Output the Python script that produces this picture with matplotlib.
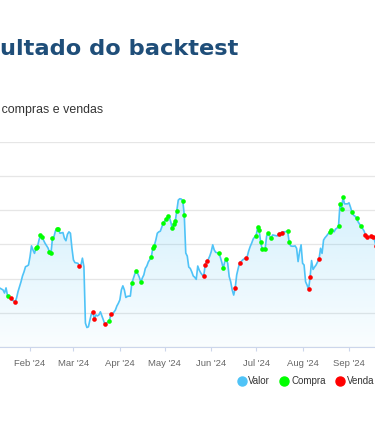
import numpy as np
import matplotlib
matplotlib.use("Agg")
import matplotlib.pyplot as plt
import matplotlib.dates as mdates
from matplotlib.colors import to_rgb
from matplotlib.lines import Line2D

# data (days counted from 2024-01-01)
start = np.datetime64("2024-01-01")
day_offsets = [
    2, 7, 11, 13, 14, 15, 16, 17, 18, 19, 20, 21, 22, 23, 24, 25, 26, 27, 28, 29,
    30, 31, 32, 33, 34, 35, 36, 37, 38, 39, 40, 41, 42, 43, 44, 45, 46, 47, 48, 49,
    50, 51, 52, 53, 54, 55, 56, 57, 58, 59, 60, 61, 62, 63, 64, 65, 66, 67, 68, 69,
    70, 71, 72, 73, 74, 75, 76, 77, 78, 79, 80, 81, 82, 83, 84, 85, 86, 87, 88, 89,
    90, 91, 92, 93, 94, 95, 96, 97, 98, 99, 100, 101, 102, 103, 104, 105, 106, 107, 108, 109,
    110, 111, 112, 113, 114, 115, 116, 117, 118, 119, 120, 121, 122, 123, 124, 125, 126, 127, 128, 129,
    130, 131, 132, 133, 134, 135, 136, 137, 138, 139, 140, 141, 142, 143, 144, 145, 146, 147, 148, 149,
    150, 151, 152, 153, 154, 155, 156, 157, 158, 159, 160, 161, 162, 163, 164, 165, 166, 167, 168, 169,
    170, 171, 172, 173, 174, 175, 176, 177, 178, 179, 180, 181, 182, 183, 184, 185, 186, 187, 188, 189,
    190, 191, 192, 193, 194, 195, 196, 197, 198, 199, 200, 201, 202, 203, 204, 205, 206, 207, 208, 209,
    210, 211, 212, 213, 214, 215, 216, 217, 218, 219, 220, 221, 222, 223, 224, 225, 226, 227, 228, 229,
    230, 231, 232, 233, 234, 235, 236, 237, 238, 239, 240, 241, 242, 243, 244, 245, 246, 247, 248, 249,
    250, 251, 252, 253, 254, 255, 256, 257, 258, 259, 260, 261, 262, 263, 265, 268,
]
values = [
    9670, 9790, 9720, 9670, 9580, 9730, 9500, 9470, 9430, 9380, 9350, 9320, 9430, 9620, 9760, 9910, 10080, 10200, 10350, 10370,
    10400, 10640, 10960, 10840, 10740, 10890, 10940, 11130, 11280, 11210, 11130, 11040, 10970, 10900, 10780, 10740, 11180, 11230, 11400, 11450,
    11450, 11330, 11340, 11350, 11180, 11110, 11300, 11370, 11330, 10890, 10550, 10470, 10460, 10450, 10370, 10400, 10600, 10350, 8700, 8570,
    8590, 8790, 8970, 9010, 8820, 8940, 8910, 8940, 9030, 8910, 8790, 8660, 8700, 8730, 8760, 8970, 8970, 9020, 9080, 9200,
    9280, 9380, 9670, 9790, 9670, 9450, 9480, 9490, 9490, 9870, 10010, 10140, 10220, 10140, 10040, 9900, 10020, 10110, 10300, 10370,
    10490, 10560, 10640, 10890, 10970, 11130, 11330, 11370, 11390, 11510, 11640, 11690, 11740, 11830, 11800, 11660, 11470, 11590, 11680, 11990,
    12300, 12340, 12330, 12280, 11870, 10750, 10660, 10340, 10300, 10200, 10080, 10040, 9980, 10370, 10250, 10170, 10110, 10080, 10410, 10520,
    10560, 10660, 10790, 10990, 10840, 10770, 10760, 10740, 10640, 10490, 10300, 10490, 10570, 10450, 10060, 9910, 9670, 9520, 9720, 10110,
    10300, 10470, 10500, 10550, 10580, 10600, 10640, 10810, 10940, 11040, 11160, 11220, 11260, 11500, 11420, 11070, 10880, 10880, 10880, 11250,
    11330, 11250, 11190, 11280, 11270, 11260, 11250, 11310, 11340, 11350, 11370, 11370, 11380, 11400, 11080, 10960, 10950, 10950, 10960, 10890,
    10500, 10790, 10990, 10450, 10400, 9910, 9810, 9690, 10040, 10530, 10270, 10340, 10400, 10490, 10580, 10890, 10740, 11130, 11200, 11250,
    11310, 11360, 11420, 11400, 11370, 11450, 11480, 11550, 12190, 12040, 12380, 12190, 12190, 12190, 12220, 12090, 11940, 11860, 11830, 11780,
    11670, 11600, 11540, 11470, 11400, 11280, 11210, 11230, 11230, 11260, 11230, 11130, 10960, 10840, 10900, 10950,
]
buy_days = [16, 35, 36, 38, 39, 44, 45, 46, 49, 50, 84, 99, 102, 105, 112, 113, 114, 120, 122, 123,
            126, 127, 128, 129, 133, 134, 157, 160, 162, 182, 183, 184, 185, 186, 188, 190, 192, 203, 204, 231,
            232, 237, 238, 239, 240, 246, 249, 252]
sell_days = [18, 21, 64, 73, 74, 81, 85, 147, 148, 149, 168, 171, 175, 197, 199, 217, 218, 224, 255, 256,
             259, 260, 262]

title = "Resultado do backtest"
subtitle = "Evolução do valor da carteira com compras e vendas"
legend_labels = ["Valor", "Compra", "Venda"]

LINE = "#4fc3f7"
GREEN = "#00ff00"
RED = "#ff0000"

def to_num(days):
    return mdates.date2num(start + np.array(days).astype("timedelta64[D]"))

x = to_num(day_offsets)
v = np.array(values, dtype=float)
lookup = dict(zip(day_offsets, values))

fig = plt.figure(figsize=(3.75, 4.37), dpi=100)
ax = fig.add_axes([0, 90 / 437, 1, 205 / 437])

# gradient area under the line
poly = ax.fill_between(x, v, 8000, facecolor="none", edgecolor="none")
grad = np.zeros((256, 1, 4))
grad[..., :3] = to_rgb(LINE)
grad[..., 3] = np.linspace(0.24, 0.03, 256)[:, None]
im = ax.imshow(grad, extent=[x.min(), x.max(), 8000, v.max()], aspect="auto",
               origin="upper", zorder=1)
im.set_clip_path(poly.get_paths()[0], transform=ax.transData)

ax.plot(x, v, color=LINE, lw=1.2, zorder=3)
ax.scatter(to_num(buy_days), [lookup[d] for d in buy_days], s=11, color=GREEN,
           zorder=4, linewidths=0)
ax.scatter(to_num(sell_days), [lookup[d] for d in sell_days], s=11, color=RED,
           zorder=4, linewidths=0)

feb1 = mdates.date2num(np.datetime64("2024-02-01"))
ax.set_xlim(feb1 - 20.03, feb1 + 230.35)
ax.set_ylim(8000, 14000)
ax.set_yticks(np.arange(8000, 14001, 1000))
ax.grid(axis="y", color="#e6e6e6", lw=0.9)
ax.set_axisbelow(True)

months = np.arange(np.datetime64("2024-02"), np.datetime64("2024-10"))
ax.set_xticks(mdates.date2num(months.astype("datetime64[D]")))
ax.xaxis.set_major_formatter(mdates.DateFormatter("%b '%y"))
ax.tick_params(axis="x", length=3, width=0.8, color="#ccd6eb", pad=6,
               labelsize=6.8, labelcolor="#666666")
ax.tick_params(axis="y", left=False, labelleft=False)
for lab in ax.get_xticklabels():
    lab.set_fontfamily("Liberation Sans")
for s in ["left", "right", "top"]:
    ax.spines[s].set_visible(False)
ax.spines["bottom"].set_color("#ccd6eb")
ax.spines["bottom"].set_linewidth(0.8)
ax.set_facecolor("none")

fig.text(238 / 375, 1 - 55 / 437, title, ha="right", va="baseline",
         fontsize=16.2, fontweight="bold", color="#1f4e79", family="DejaVu Sans")
fig.text(103.5 / 375, 1 - 113.5 / 437, subtitle, ha="right", va="baseline",
         fontsize=8.9, color="#333333", family="Liberation Sans")

handles = [Line2D([], [], ls="none", marker="o", ms=6.5, mfc=c, mec=c)
           for c in [LINE, GREEN, RED]]
fig.legend(handles, legend_labels, loc="center right", bbox_to_anchor=(374 / 375, 1 - 381 / 437),
           ncol=3, frameon=False, handlelength=0.9, handletextpad=0.25, columnspacing=1.0,
           borderpad=0, borderaxespad=0,
           prop={"family": "Liberation Sans", "size": 7.0}, labelcolor="#333333")

fig.savefig("out.png", dpi=100, facecolor="white")
